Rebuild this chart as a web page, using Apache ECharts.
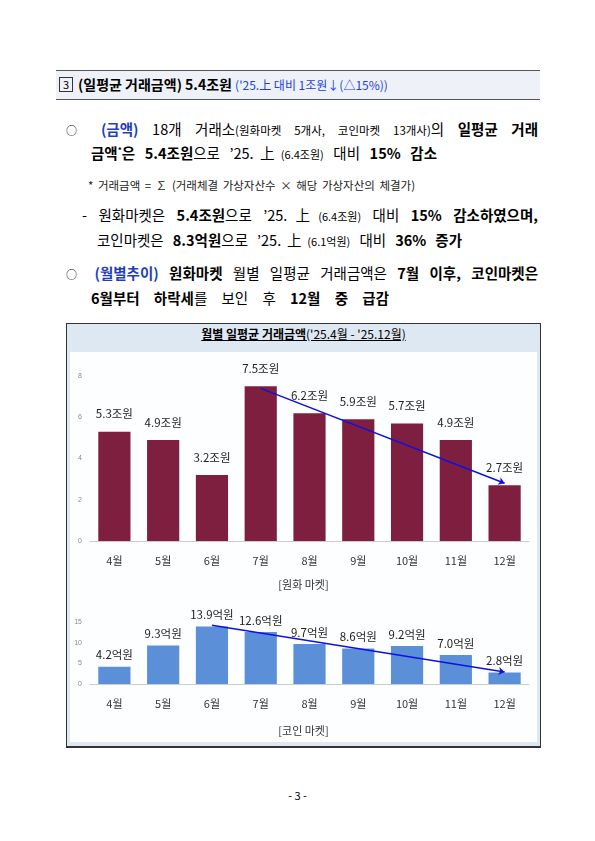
<!DOCTYPE html><html><head><meta charset="utf-8">
<script src="https://cdn.jsdelivr.net/npm/echarts@6/dist/echarts.min.js"></script>
<style>
body{margin:0;width:595px;height:841px;background:#fff;font-family:"Noto Sans CJK KR";position:relative;overflow:hidden;color:#000}
.a{position:absolute;white-space:nowrap}
.j{position:absolute;white-space:normal;text-align:justify;text-align-last:justify;font-size:14.5px;height:22px;overflow:visible}
.b{color:#1f3fbf;font-weight:bold}
.o{font-size:11px}
</style></head><body>
<div class="a" style="left:56px;top:70px;width:484px;height:28px;background:#eef2f8;border-top:1px solid #555;border-bottom:1px solid #555"></div>
<div class="a" style="left:59px;top:77px;width:12px;height:13px;border:1px solid #333;font-size:11px;line-height:13px;text-align:center">3</div>
<div class="a" style="left:78px;top:74px;font-size:14px;font-weight:bold">(일평균 거래금액) 5.4조원 <span style="color:#1f3fe0;font-size:12px;font-weight:normal">('25.上 대비 1조원↓(△15%))</span></div>
<div class="j" style="left:66px;top:118px;width:472px"><span class="o">○</span> <span class="b">(금액)</span> 18개 거래소<span style="font-size:11.5px">(원화마켓 5개사, 코인마켓 13개사)</span>의 <b>일평균 거래</b></div>
<div class="j" style="left:91px;top:142px;width:346px"><b>금액<sup style="font-size:8px">*</sup>은 5.4조원</b>으로 ’25.上<span style="font-size:11px">(6.4조원)</span> 대비 <b>15% 감소</b></div>
<div class="a" style="left:88px;top:177px;font-size:11.5px;color:#222;word-spacing:2px">* 거래금액 = ∑ (거래체결 가상자산수 × 해당 가상자산의 체결가)</div>
<div class="j" style="left:82px;top:204px;width:456px">- 원화마켓은 <b>5.4조원</b>으로 ’25.上<span style="font-size:11px">(6.4조원)</span> 대비 <b>15% 감소하였으며,</b></div>
<div class="j" style="left:97px;top:229px;width:365px">코인마켓은 <b>8.3억원</b>으로 ’25.上<span style="font-size:11px">(6.1억원)</span> 대비 <b>36% 증가</b></div>
<div class="j" style="left:66px;top:262px;width:472px"><span class="o">○</span> <span class="b">(월별추이)</span> <b>원화마켓</b> 월별 일평균 거래금액은 <b>7월 이후, 코인마켓은</b></div>
<div class="j" style="left:91px;top:287px;width:298px"><b>6월부터 하락세</b>를 보인 후 <b>12월 중 급감</b></div>
<div class="a" style="left:66px;top:323px;width:473px;height:422px;background:#dde8f2;border:1px solid #333;border-bottom-width:2px"></div>
<div class="a" style="left:70px;top:352px;width:467px;height:390px;background:#fdfeff"></div>
<div class="a" style="left:66px;top:325px;width:475px;text-align:center;font-size:12px;font-weight:bold"><span style="text-decoration:underline">월별 일평균 거래금액<span style="font-weight:normal">('25.4월 - '25.12월)</span></span></div>
<div id="c" class="a" style="left:66px;top:352px;width:475px;height:392px"></div>
<div class="a" style="left:0;top:787px;width:595px;text-align:center;font-size:11px">- 3 -</div>
<script>
const months=['4월','5월','6월','7월','8월','9월','10월','11월','12월'];
const wonValues=[5.3,4.9,3.2,7.5,6.2,5.9,5.7,4.9,2.7];
const coinValues=[4.2,9.3,13.9,12.6,9.7,8.6,9.2,7.0,2.8];
const wonTicks=[0,2,4,6,8];
const coinTicks=[0,5,10,15];
const f='"Liberation Sans Narrow","Noto Sans CJK KR"';
const c=echarts.init(document.getElementById('c'));
const ax=(g)=>({type:'category',gridIndex:g,data:months,axisTick:{show:false},axisLine:{lineStyle:{color:'#ccc'}},axisLabel:{fontFamily:f,fontSize:11,color:'#333',margin:14}});
c.setOption({animation:false,
 grid:[{left:24,right:12,top:24,height:165},{left:24,right:12,top:270,height:62}],
 title:[{text:'[원화 마켓]',left:'center',top:222,textStyle:{fontSize:11,fontWeight:'normal',color:'#333',fontFamily:f}},
        {text:'[코인 마켓]',left:'center',top:368,textStyle:{fontSize:11,fontWeight:'normal',color:'#333',fontFamily:f}}],
 xAxis:[ax(0),ax(1)],
 yAxis:[{gridIndex:0,min:0,max:8,interval:2,splitLine:{show:false},axisLabel:{fontSize:7,color:'#888'}},
        {gridIndex:1,min:0,max:15,interval:5,splitLine:{show:false},axisLabel:{fontSize:7,color:'#888'}}],
 series:[
  {type:'bar',data:wonValues,barWidth:'66%',itemStyle:{color:'#7e1f40'},
   label:{show:true,position:'top',distance:12,fontFamily:f,fontSize:11.5,color:'#222',formatter:p=>p.value.toFixed(1)+'조원'},
   markLine:{symbol:['none','arrow'],symbolSize:6,lineStyle:{color:'#1010e0',width:1.5,type:'solid'},label:{show:false},
     data:[[{coord:['7월',7.4]},{coord:['12월',2.8]}]]}},
  {type:'bar',xAxisIndex:1,yAxisIndex:1,data:coinValues,barWidth:'66%',itemStyle:{color:'#5b8fd8'},
   label:{show:true,position:'top',distance:6,fontFamily:f,fontSize:11.5,color:'#222',formatter:p=>p.value.toFixed(1)+'억원'},
   markLine:{symbol:['none','arrow'],symbolSize:6,lineStyle:{color:'#1010e0',width:1.5,type:'solid'},label:{show:false},
     data:[[{coord:['6월',14.2]},{coord:['12월',2.9]}]]}}
 ]});
</script></body></html>
